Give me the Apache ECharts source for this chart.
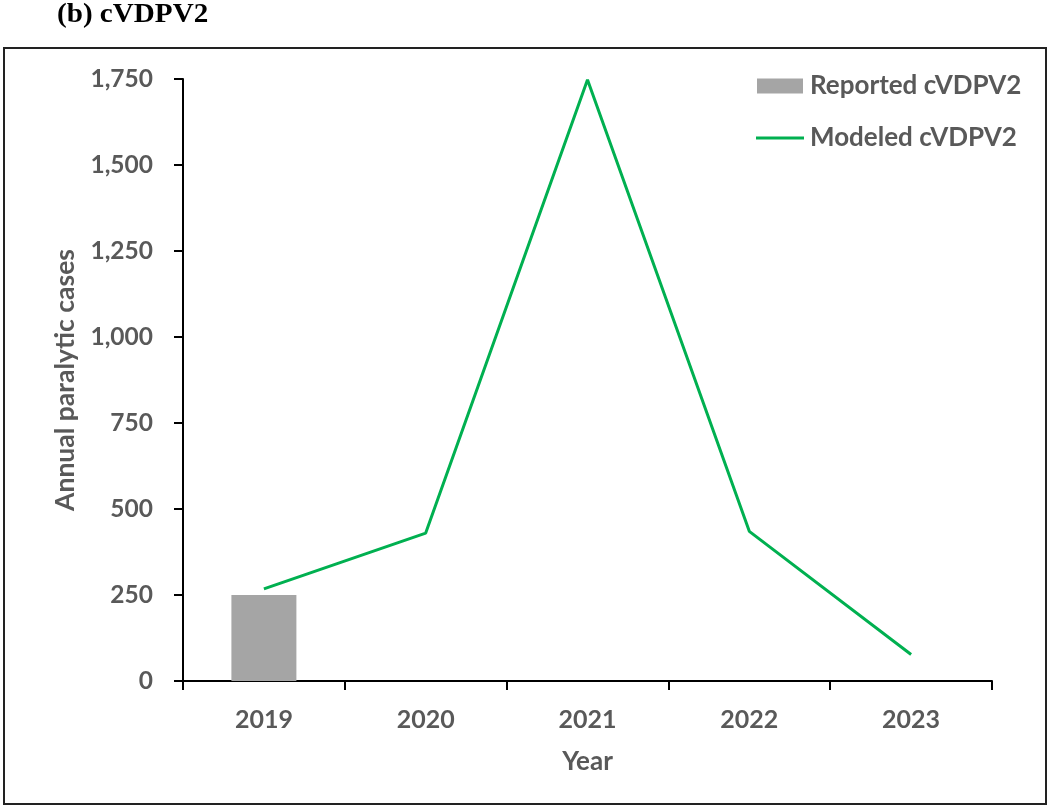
<!DOCTYPE html>
<html><head><meta charset="utf-8">
<script src="https://cdn.jsdelivr.net/npm/echarts@6/dist/echarts.min.js"></script>
<style>html,body{margin:0;padding:0;background:#fff}#c{width:1050px;height:808px}</style>
</head><body><div id="c"></div>
<script>
const years = ['2019','2020','2021','2022','2023'];
const reported = [250, null, null, null, null];
const modeled = [268, 430, 1748, 435, 77];
const yMax = 1750, yInterval = 250;
const titleText = '(b) cVDPV2';

const grey = '#595959';
const fontFam = 'Lato';
const chart = echarts.init(document.getElementById('c'), null, {renderer:'canvas'});
chart.setOption({
  backgroundColor:'#fff',
  animation:false,
  graphic:[
    {type:'rect', shape:{x:4, y:48, width:1042, height:756}, style:{fill:null, stroke:'#222', lineWidth:2}, z:-1},
    {type:'text', x:57, y:15, scaleX:1.04, originX:0, originY:0,
      style:{text:titleText, fontFamily:'Liberation Serif', fontWeight:'bold', fontSize:28, fill:'#000', textAlign:'left', textVerticalAlign:'middle', verticalAlign:'middle'}}
  ],
  legend:[
    {data:[{name:'Reported cVDPV2', icon:'rect'}], left:757, top:73, padding:0, itemWidth:46, itemHeight:15, itemGap:0, textStyle:{color:grey, fontFamily:fontFam, fontWeight:'bold', fontSize:26, padding:[0,0,0,2]}},
    {data:[{name:'Modeled cVDPV2', icon:'path://M0,0H48V3H0Z'}], left:756, top:125, padding:0, itemWidth:48, itemHeight:3, itemGap:0, textStyle:{color:grey, fontFamily:fontFam, fontWeight:'bold', fontSize:26, padding:[0,0,0,1]}}
  ],
  grid:{left:183, right:58, top:79, bottom:127, containLabel:false},
  xAxis:{type:'category', data:years, boundaryGap:true,
    name:'Year', nameLocation:'middle', nameGap:68,
    nameTextStyle:{color:grey, fontFamily:fontFam, fontWeight:'bold', fontSize:26},
    axisLine:{lineStyle:{color:'#000', width:2}},
    axisTick:{show:true, length:9, lineStyle:{color:'#000', width:2}},
    axisLabel:{color:grey, fontFamily:fontFam, fontWeight:'bold', fontSize:25, margin:26}},
  yAxis:{type:'value', min:0, max:yMax, interval:yInterval,
    name:'Annual paralytic cases', nameLocation:'middle', nameGap:104,
    nameTextStyle:{color:grey, fontFamily:fontFam, fontWeight:'bold', fontSize:26.5},
    splitLine:{show:false},
    axisLine:{show:true, lineStyle:{color:'#000', width:2}},
    axisTick:{show:true, length:9, lineStyle:{color:'#000', width:2}},
    axisLabel:{color:grey, fontFamily:fontFam, fontWeight:'bold', fontSize:24.5, margin:30,
      formatter:v=>v.toLocaleString('en-US')}},
  series:[
    {name:'Reported cVDPV2', type:'bar', data:reported, barWidth:65, itemStyle:{color:'#a5a5a5'}},
    {name:'Modeled cVDPV2', type:'line', data:modeled, symbol:'none', lineStyle:{color:'#00b050', width:3}, itemStyle:{color:'#00b050'}}
  ]
});
</script></body></html>
